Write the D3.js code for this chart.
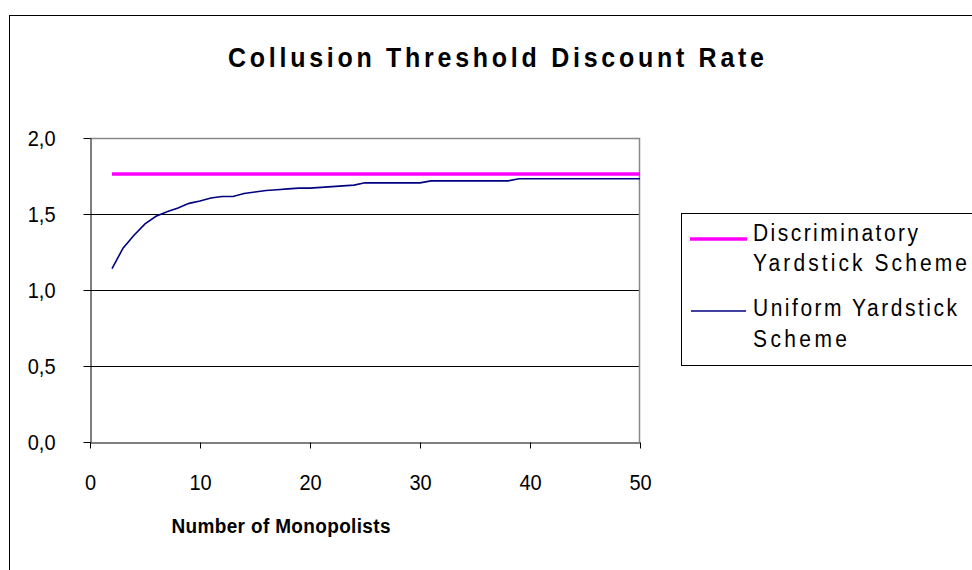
<!DOCTYPE html>
<html>
<head>
<meta charset="utf-8">
<script src="https://cdn.jsdelivr.net/npm/d3@7"></script>
<style>
  body { margin: 0; background: #fff; }
  svg text { font-family: "Liberation Sans", Arial, sans-serif; fill: #000; }
</style>
</head>
<body>
<div id="vis1"></div>
<script>
const WIDTH = 972;
const HEIGHT = 570;
const MARG = {left : 90, right : 332, top : 138, bottom : 128};

// data
const monopolists = [2,3,4,5,6,7,8,9,10,11,12,13,14,15,16,17,18,19,20,21,22,23,24,25,26,
    27,28,29,30,31,32,33,34,35,36,37,38,39,40,41,42,43,44,45,46,47,48,49,50];
const discriminatory = monopolists.map(() => 1.763);
const uniform = [1.14,1.275,1.36,1.435,1.485,1.515,1.54,1.57,1.585,1.605,1.615,1.615,1.635,1.645,1.655,1.66,
    1.665,1.67,1.67,1.675,1.68,1.685,1.69,1.705,1.705,1.705,1.705,1.705,1.705,1.718,1.718,1.718,
    1.718,1.718,1.718,1.718,1.718,1.732,1.732,1.732,1.732,1.732,1.732,1.732,1.732,1.732,1.732,1.732,1.732];
const xTicks = [0,10,20,30,40,50];
const yTicks = [0,0.5,1.0,1.5,2.0];
const seriesNames = [["Discriminatory", "Yardstick Scheme"], ["Uniform Yardstick", "Scheme"]];

const VIS_WIDTH = WIDTH - MARG.left - MARG.right;
const VIS_HEIGHT = HEIGHT - MARG.top - MARG.bottom;

const FRAME = d3.select("#vis1")
    .append("svg")
        .attr("width", WIDTH)
        .attr("height", HEIGHT);

// outer chart border
FRAME.append("rect")
    .attr("x", 9.5).attr("y", 15.5)
    .attr("width", 1000).attr("height", 600)
    .attr("fill", "#fff").attr("stroke", "#000");

// stretched text helper, like the old excel render
function label(parent, txt, x, y, size, opts) {
    opts = opts || {};
    const t = parent.append("text")
        .attr("transform", "translate(" + x + "," + y + ") scale(1," + (opts.sy || 1.1) + ")")
        .attr("font-size", size)
        .attr("font-weight", opts.bold ? "bold" : "normal")
        .attr("text-anchor", opts.anchor || "start")
        .text(txt);
    if (opts.len) t.attr("textLength", opts.len).attr("lengthAdjust", "spacing");
    return t;
}

label(FRAME, "Collusion Threshold Discount Rate", 496, 67, 25, {bold: true, anchor: "middle", sy: 1.12, len: 536});

const X_SCALE = d3.scaleLinear().domain([0, 50]).range([0, VIS_WIDTH]);
const Y_SCALE = d3.scaleLinear().domain([0, 2]).range([VIS_HEIGHT, 0]);

const g = FRAME.append("g").attr("transform", "translate(" + MARG.left + "," + MARG.top + ")");

// gridlines
g.selectAll(".grid")
    .data(yTicks.filter(d => d > 0 && d < 2))
    .enter().append("line")
    .attr("x1", 0).attr("x2", VIS_WIDTH)
    .attr("y1", d => Math.round(Y_SCALE(d)) + 0.5)
    .attr("y2", d => Math.round(Y_SCALE(d)) + 0.5)
    .attr("stroke", "#000");

// gray frame on top and right
g.append("path")
    .attr("d", "M0,0.5H" + (VIS_WIDTH - 0.5) + "V" + VIS_HEIGHT)
    .attr("fill", "none").attr("stroke", "#888").attr("stroke-width", 1.5);

// axes
const yAxis = g.append("g").attr("transform", "translate(0.5,0)")
    .call(d3.axisLeft(Y_SCALE).tickValues(yTicks).tickSize(7).tickSizeOuter(0));
yAxis.selectAll("text").remove();
yAxis.selectAll(".tick").each(function(d) {
    label(d3.select(this), d3.format(".1f")(d).replace(".", ","), -35, 7, 20, {anchor: "end"});
});

const xAxis = g.append("g").attr("transform", "translate(0," + (VIS_HEIGHT + 0.5) + ")")
    .call(d3.axisBottom(X_SCALE).tickValues(xTicks).tickSize(6).tickSizeOuter(0));
xAxis.selectAll("text").remove();
xAxis.selectAll(".tick").each(function(d) {
    label(d3.select(this), d, 0, 47, 20, {anchor: "middle"});
});
g.selectAll(".domain, .tick line").attr("stroke", "#000");

label(FRAME, "Number of Monopolists", 281, 533, 19, {bold: true, anchor: "middle", len: 219});

// series
const line = d3.line().x(d => X_SCALE(d[0])).y(d => Y_SCALE(d[1]));

g.append("path")
    .datum(monopolists.map((m, i) => [m, discriminatory[i]]))
    .attr("d", line)
    .attr("fill", "none").attr("stroke", "#ff00ff").attr("stroke-width", 3.5);

g.append("path")
    .datum(monopolists.map((m, i) => [m, uniform[i]]))
    .attr("d", line)
    .attr("fill", "none").attr("stroke", "#000080").attr("stroke-width", 1.6);

// legend
const leg = FRAME.append("g");
leg.append("rect")
    .attr("x", 681.5).attr("y", 213.5).attr("width", 400).attr("height", 152)
    .attr("fill", "#fff").attr("stroke", "#000");
leg.append("line").attr("x1", 690).attr("x2", 747).attr("y1", 239).attr("y2", 239)
    .attr("stroke", "#ff00ff").attr("stroke-width", 3.5);
leg.append("line").attr("x1", 691).attr("x2", 746).attr("y1", 311).attr("y2", 311)
    .attr("stroke", "#000080").attr("stroke-width", 1.6);
label(leg, seriesNames[0][0], 753, 241, 21, {len: 165});
label(leg, seriesNames[0][1], 753, 271, 21, {len: 214});
label(leg, seriesNames[1][0], 753, 316, 21, {len: 204});
label(leg, seriesNames[1][1], 753, 347, 21, {len: 94});
</script>
</body>
</html>
